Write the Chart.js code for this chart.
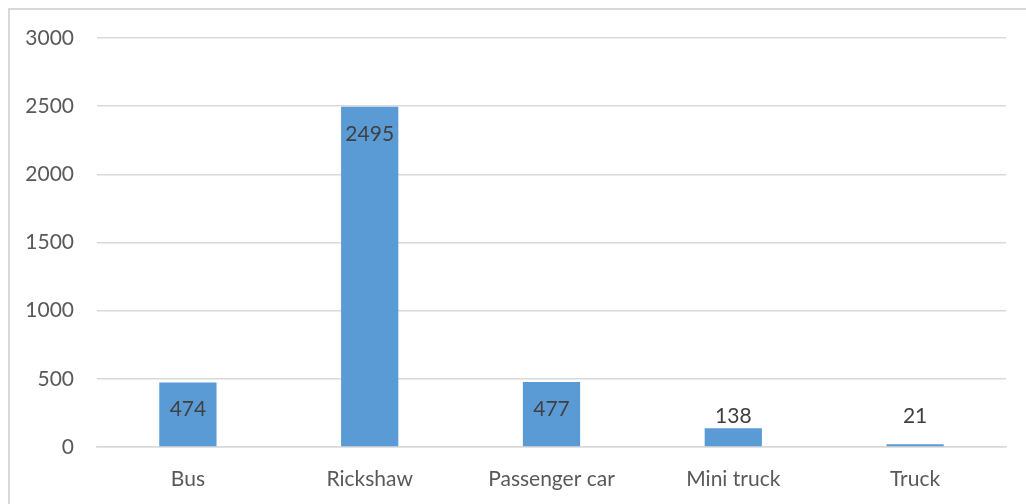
<!DOCTYPE html>
<html>
<head>
<meta charset="utf-8">
<script src="https://cdn.jsdelivr.net/npm/chart.js@4"></script>
<style>
  html, body { margin: 0; padding: 0; background: #fff; }
  #wrap { position: absolute; left: 0; top: 0; width: 1026px; height: 504px; }
</style>
</head>
<body>
<div id="wrap"><canvas id="myChart" width="1026" height="504"></canvas></div>
<script>
// data
const categories = ['Bus', 'Rickshaw', 'Passenger car', 'Mini truck', 'Truck'];
const counts = [474, 2495, 477, 138, 21];
const yTicks = [0, 500, 1000, 1500, 2000, 2500, 3000];

const FONT = 'Lato, "Open Sans", sans-serif';
const FSIZE = 21;

// outer frame of the chart (top and left edges visible)
const framePlugin = {
    id: 'frame',
    beforeDraw(chart) {
        const ctx = chart.ctx;
        ctx.save();
        ctx.strokeStyle = '#D9D9D9';
        ctx.lineWidth = 2;
        ctx.beginPath();
        ctx.moveTo(1026, 9);
        ctx.lineTo(9, 9);
        ctx.lineTo(9, 504);
        ctx.stroke();
        ctx.restore();
    }
};

// value labels: inside end when the bar is tall enough, otherwise above it
const valueLabels = {
    id: 'valueLabels',
    afterDatasetsDraw(chart) {
        const ctx = chart.ctx;
        const meta = chart.getDatasetMeta(0);
        ctx.save();
        ctx.font = FSIZE + 'px ' + FONT;
        ctx.fillStyle = '#404040';
        ctx.textAlign = 'center';
        ctx.textBaseline = 'middle';
        meta.data.forEach((bar, i) => {
            const y = Math.min(bar.y + 27, bar.base - 30);
            ctx.fillText(String(counts[i]), bar.x, y);
        });
        ctx.restore();
    }
};

const ctx = document.getElementById('myChart').getContext('2d');
new Chart(ctx, {
    type: 'bar',
    data: {
        labels: categories,
        datasets: [{
            data: counts,
            backgroundColor: '#5B9BD5',
            barPercentage: 0.315,
            categoryPercentage: 1
        }]
    },
    options: {
        responsive: false,
        animation: false,
        layout: { padding: { top: 38, right: 20, left: 0, bottom: 0 } },
        plugins: {
            legend: { display: false },
            tooltip: { enabled: false }
        },
        scales: {
            x: {
                grid: { display: false, drawTicks: false },
                border: { display: true, color: '#D9D9D9', width: 1.5 },
                ticks: { color: '#595959', font: { family: FONT, size: FSIZE }, padding: 20 },
                afterFit(scale) { scale.height = 57; }
            },
            y: {
                min: 0,
                max: 3000,
                afterBuildTicks(scale) { scale.ticks = yTicks.map(v => ({ value: v })); },
                grid: { color: '#D9D9D9', lineWidth: 1.5, drawTicks: false },
                border: { display: false },
                ticks: {
                    color: '#595959',
                    font: { family: FONT, size: FSIZE },
                    padding: 23,
                    callback: v => String(v)
                },
                afterFit(scale) { scale.width = 97; }
            }
        }
    },
    plugins: [framePlugin, valueLabels]
});
</script>
</body>
</html>
